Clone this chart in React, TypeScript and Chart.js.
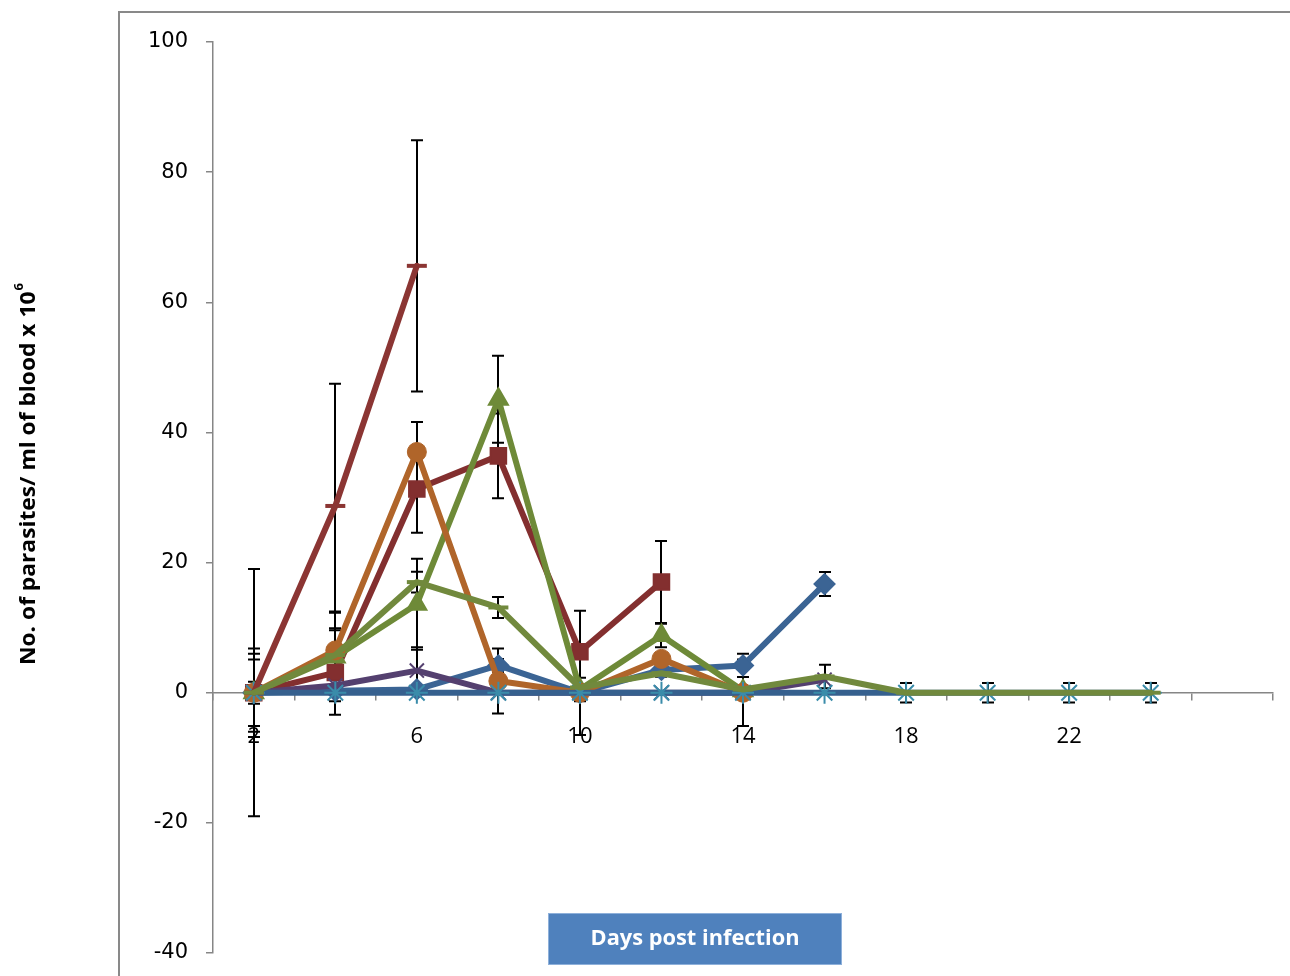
import React, { useEffect, useRef } from 'react';
import { Chart, registerables } from 'chart.js';

Chart.register(...registerables);

// Category axis (days post infection); last category is empty
const days = ['2', '4', '6', '8', '10', '12', '14', '16', '18', '20', '22', '24', ''];
const shownDayLabels = ['2', '6', '10', '14', '18', '22'];
const yTickValues = [-40, -20, 0, 20, 40, 60, 80, 100];

// Series values (No. of parasites / ml of blood x 10^6)
const blueDiamond = [0, 0.3, 0.5, 4.2, 0, 3.5, 4.2, 16.7, null, null, null, null];
const redSquare = [0, 3.1, 31.3, 36.4, 6.3, 17.0, null, null, null, null, null, null];
const greenTriangle = [0, 5.5, 13.6, 45.1, 0.5, 8.8, 0.3, null, null, null, null, null];
const purpleCross = [0, 1.1, 3.4, 0, 0, 0, 0, 2.0, null, null, null, null];
const orangeCircle = [0, 6.5, 37.0, 1.8, 0, 5.2, 0, null, null, null, null, null];
const zeroStar = [0, 0, 0, 0, 0, 0, 0, 0, 0, 0, 0, 0];
const redDash = [0, 28.7, 65.6, null, null, null, null, null, null, null, null, null];
const greenDash = [0, 5.8, 17.0, 13.1, 0.8, 3.0, 0.5, 2.5, 0, 0, 0, 0];

// Error bar half-lengths (symmetric)
const blueDiamondErr = [1.7, 0, 0, 1.0, 0, 1.0, 1.8, 1.85, 0, 0, 0, 0];
const redSquareErr = [6.0, 6.5, 6.7, 6.5, 6.3, 6.3, 0, 0, 0, 0, 0, 0];
const greenTriangleErr = [5.1, 6.8, 7.0, 6.7, 1.8, 1.8, 0, 0, 0, 0, 0, 0];
const purpleCrossErr = [0, 0, 3.6, 0, 0, 0, 0, 0, 0, 0, 0, 0];
const orangeCircleErr = [6.8, 6.0, 4.6, 5.0, 6.5, 0, 5.1, 0, 0, 0, 0, 0];
const zeroStarErr = [0, 0, 0, 0, 0, 0, 0, 0, 1.5, 1.5, 1.5, 1.5];
const redDashErr = [19.0, 18.8, 19.3, 0, 0, 0, 0, 0, 0, 0, 0, 0];
const greenDashErr = [0, 0, 1.6, 1.6, 0, 0.5, 0, 1.8, 0, 0, 0, 0];

const yTitle = 'No. of parasites/ ml of blood x 10';
const yTitleSup = '6';
const xTitle = 'Days post infection';

const errorBarsPlugin = {
  id: 'errorBars',
  beforeDatasetsDraw(chart: any) {
    const { ctx } = chart;
    const xs = chart.scales.x;
    const ys = chart.scales.y;
    ctx.save();
    ctx.strokeStyle = '#000';
    ctx.lineWidth = 2;
    chart.data.datasets.forEach((ds: any) => {
      const errs: number[] = ds.errors || [];
      ds.data.forEach((v: number | null, i: number) => {
        const e = errs[i];
        if (v === null || v === undefined || !e) return;
        const x = Math.round(xs.getPixelForValue(i));
        const y1 = ys.getPixelForValue(v + e);
        const y2 = ys.getPixelForValue(v - e);
        ctx.beginPath();
        ctx.moveTo(x, y1);
        ctx.lineTo(x, y2);
        ctx.moveTo(x - 6, y1);
        ctx.lineTo(x + 6, y1);
        ctx.moveTo(x - 6, y2);
        ctx.lineTo(x + 6, y2);
        ctx.stroke();
      });
    });
    ctx.restore();
  },
};

const decorPlugin = {
  id: 'decor',
  beforeDraw(chart: any) {
    const { ctx } = chart;
    ctx.save();
    ctx.fillStyle = '#fff';
    ctx.fillRect(0, 0, chart.width, chart.height);
    ctx.strokeStyle = '#898989';
    ctx.lineWidth = 2;
    ctx.beginPath();
    ctx.moveTo(119, chart.height);
    ctx.lineTo(119, 12);
    ctx.lineTo(chart.width, 12);
    ctx.stroke();
    ctx.restore();
  },
  afterDraw(chart: any) {
    const { ctx } = chart;
    // Y axis title, rotated, with superscript
    ctx.save();
    ctx.translate(29, 665);
    ctx.rotate(-Math.PI / 2);
    ctx.font = 'bold 21px "Open Sans"';
    const mainW = ctx.measureText(yTitle).width;
    ctx.font = 'bold 12px "Open Sans"';
    const supW = ctx.measureText(yTitleSup).width;
    const target = 382;
    const sx = target / (mainW + supW + 1);
    ctx.scale(sx, 1);
    ctx.fillStyle = '#000';
    ctx.textBaseline = 'middle';
    ctx.textAlign = 'left';
    ctx.font = 'bold 21px "Open Sans"';
    ctx.fillText(yTitle, 0, 0);
    ctx.font = 'bold 12px "Open Sans"';
    ctx.fillText(yTitleSup, mainW + 1, -9);
    ctx.restore();

    // X axis title box
    ctx.save();
    ctx.fillStyle = '#4F81BD';
    ctx.fillRect(548, 913, 294, 52);
    ctx.strokeStyle = '#8EB0DA';
    ctx.lineWidth = 1;
    ctx.strokeRect(548.5, 913.5, 293, 51);
    ctx.font = 'bold 22px "Open Sans"';
    const w = ctx.measureText(xTitle).width;
    const s = 209 / w;
    ctx.translate(695, 939);
    ctx.scale(s, 1);
    ctx.fillStyle = '#fff';
    ctx.textAlign = 'center';
    ctx.textBaseline = 'middle';
    ctx.fillText(xTitle, 0, 0);
    ctx.restore();
  },
};

function makeDataset(
  data: (number | null)[],
  errors: number[],
  color: string,
  pointStyle: string,
  radius: number,
  pointBorderWidth: number,
  order: number,
  pointColor?: string,
) {
  return {
    data,
    errors,
    borderColor: color,
    backgroundColor: color,
    borderWidth: 6,
    pointStyle,
    pointRadius: radius,
    pointBorderWidth,
    pointBackgroundColor: pointColor || color,
    pointBorderColor: pointColor || color,
    borderJoinStyle: 'round',
    borderCapStyle: 'round',
    tension: 0,
    order,
    spanGaps: false,
  };
}

export default function App() {
  const canvasRef = useRef<HTMLCanvasElement | null>(null);

  useEffect(() => {
    if (!canvasRef.current) return;
    const datasets = [
      makeDataset(blueDiamond, blueDiamondErr, '#3B6494', 'rectRot', 10, 2, 8),
      makeDataset(redSquare, redSquareErr, '#832F2F', 'rect', 11, 2, 7),
      makeDataset(greenTriangle, greenTriangleErr, '#6E8A38', 'triangle', 11, 2, 6),
      makeDataset(purpleCross, purpleCrossErr, '#54406F', 'crossRot', 10, 2, 5),
      makeDataset(orangeCircle, orangeCircleErr, '#B0652A', 'circle', 9.5, 1, 4),
      makeDataset(zeroStar, zeroStarErr, '#36608E', 'star', 11, 2, 3, '#3A8CAA'),
      makeDataset(redDash, redDashErr, '#8B3533', 'line', 10, 4, 2),
      makeDataset(greenDash, greenDashErr, '#71893D', 'line', 10, 4, 1),
    ];

    const chart = new Chart(canvasRef.current, {
      type: 'line',
      data: { labels: days, datasets: datasets as any },
      options: {
        animation: false,
        responsive: false,
        devicePixelRatio: 1,
        layout: { padding: { left: 0, right: 17, top: 42, bottom: 23 } },
        plugins: {
          legend: { display: false },
          tooltip: { enabled: false },
        },
        scales: {
          x: {
            type: 'category',
            offset: true,
            position: { y: 0 } as any,
            afterFit: (scale: any) => {
              scale.height = 0;
              scale.paddingLeft = 0;
              scale.paddingRight = 0;
            },
            grid: {
              offset: true,
              drawOnChartArea: false,
              drawTicks: true,
              tickLength: 7,
              color: '#868686',
              lineWidth: 1.5,
            },
            border: { color: '#868686', width: 1.5 },
            ticks: {
              autoSkip: false,
              maxRotation: 0,
              minRotation: 0,
              padding: 24,
              color: '#000',
              font: { family: '"Open Sans"', size: 22 },
              callback: (_v: any, i: number) =>
                shownDayLabels.includes(days[i]) ? days[i] : '',
            },
          },
          y: {
            min: yTickValues[0],
            max: yTickValues[yTickValues.length - 1],
            afterBuildTicks: (scale: any) => {
              scale.ticks = yTickValues.map((v) => ({ value: v }));
            },
            afterFit: (scale: any) => {
              scale.width = 213;
              scale.paddingTop = 0;
              scale.paddingBottom = 0;
            },
            grid: {
              drawOnChartArea: false,
              drawTicks: true,
              tickLength: 7,
              color: '#868686',
              lineWidth: 1.5,
            },
            border: { color: '#868686', width: 1.5 },
            ticks: {
              padding: 18,
              color: '#000',
              font: { family: '"DejaVu Sans"', size: 21 },
            },
          },
        },
      } as any,
      plugins: [decorPlugin, errorBarsPlugin],
    });
    return () => chart.destroy();
  }, []);

  return (
    <div style={{ position: 'absolute', left: 0, top: 0, width: 1290, height: 976, background: '#fff' }}>
      <canvas ref={canvasRef} width={1290} height={976} style={{ display: 'block', width: 1290, height: 976 }} />
    </div>
  );
}
